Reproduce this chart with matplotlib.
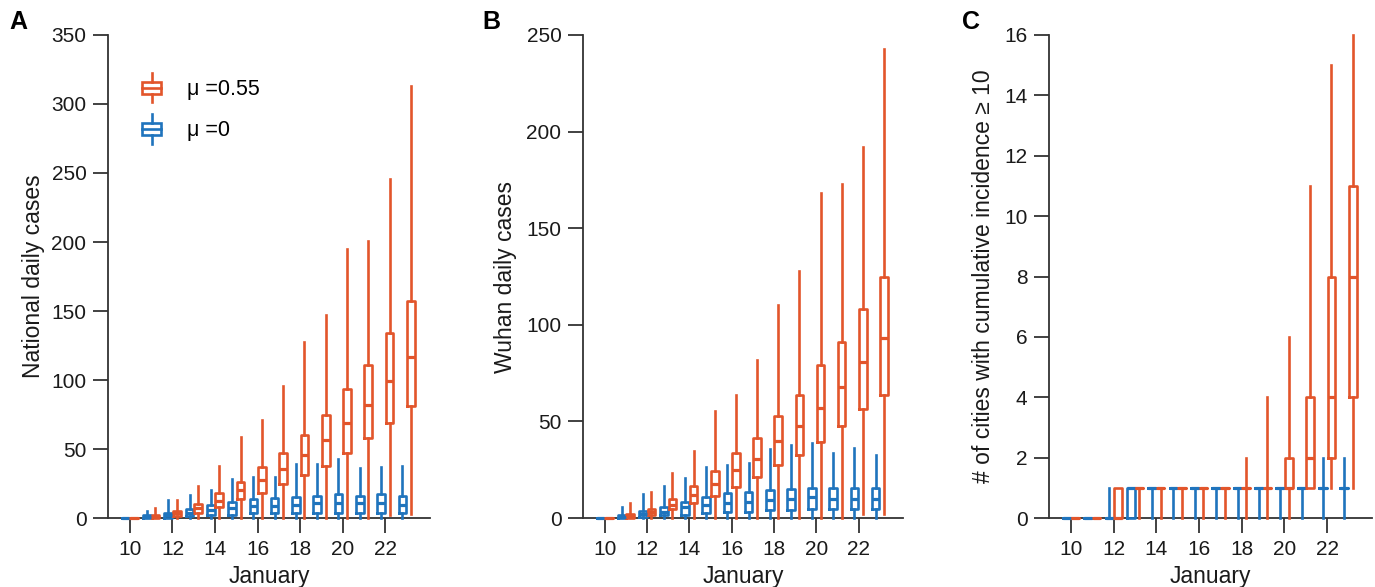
import matplotlib
matplotlib.use("Agg")
import matplotlib.pyplot as plt
from matplotlib.legend_handler import HandlerBase
from matplotlib.lines import Line2D
from matplotlib.patches import Rectangle

plt.rcParams['font.family'] = ['Liberation Sans', 'DejaVu Sans']

# days in January
days = list(range(10, 24))

# Panel A - national daily cases
nat_or_med = [0, 0.8, 3.5, 7.5, 12.5, 20, 27.5, 35.5, 46, 56.5, 68.5, 82, 99, 117]
nat_or_q1 = [0, 0, 1.5, 4, 8, 13.5, 18, 24.5, 31.5, 38, 47, 58, 69, 81.5]
nat_or_q3 = [0, 2, 5, 10, 18, 26, 37, 47, 60.5, 75, 93.5, 111, 134, 157]
nat_or_lo = [0, 0, 0, 0, 0, 0, 0, 0, 0, 0, 0, 0, 2, 3]
nat_or_hi = [0, 7, 13, 23, 38, 59, 71, 95.5, 127.5, 147, 195, 200.5, 245.5, 313]

nat_bl_med = [0, 0.5, 2, 4, 6, 7, 8.7, 8.7, 9.4, 10.6, 10.6, 10.6, 10.6, 9.4]
nat_bl_q1 = [0, 0, 0, 1.5, 2, 2, 3.5, 3.4, 4, 4, 4, 4, 4, 4]
nat_bl_q3 = [0, 2, 3.5, 6.5, 9.5, 11.5, 14, 14.7, 15.5, 16, 17.4, 16, 17.4, 16]
nat_bl_lo = [0] * 14
nat_bl_hi = [0, 5, 13, 17, 20, 28, 30, 29.7, 39, 39, 43, 36, 37, 38]

# Panel B - Wuhan daily cases
wuh_or_med = [0, 0.8, 3.3, 7, 12, 17.6, 24.8, 30.5, 39.9, 47.6, 56.8, 68, 81, 93]
wuh_or_q1 = [0, 0, 1.5, 4.5, 7.6, 11.4, 16.2, 21.4, 27.4, 32.4, 39.5, 47.6, 56.4, 63.7]
wuh_or_q3 = [0, 2, 4.6, 9.7, 16.6, 24.5, 33.8, 41.6, 52.8, 63.7, 79, 91, 108, 125]
wuh_or_lo = [0, 0, 0, 0, 0, 0, 0, 0, 0, 0, 0, 0, 2, 2]
wuh_or_hi = [0, 7.6, 13.3, 23.5, 34.7, 55.4, 63.7, 81.8, 110, 128, 168, 173, 192, 243]

wuh_bl_med = [0, 0.5, 2, 3.3, 5.9, 6.7, 7.6, 8.4, 9.3, 9.7, 10.7, 10, 10, 10]
wuh_bl_q1 = [0, 0, 0.7, 1.5, 1.5, 2.4, 3.3, 3.3, 4.1, 4.1, 4.6, 4.6, 4.6, 4.6]
wuh_bl_q3 = [0, 1.5, 3.6, 5.9, 8.5, 10.7, 12.8, 13.6, 14.5, 15, 15.7, 15.4, 15.7, 15.7]
wuh_bl_lo = [0] * 14
wuh_bl_hi = [0, 5.5, 12.4, 16.6, 20.5, 26.2, 27.4, 28.6, 35.5, 37.8, 38.6, 33.5, 36.4, 32.5]

# Panel C - cities with cumulative incidence >= 10
cit_or_med = [0, 0, 0, 1, 1, 1, 1, 1, 1, 1, 1, 2, 4, 8]
cit_or_q1 = [0, 0, 0, 1, 1, 1, 1, 1, 1, 1, 1, 1, 2, 4]
cit_or_q3 = [0, 0, 1, 1, 1, 1, 1, 1, 1, 1, 2, 4, 8, 11]
cit_or_lo = [0, 0, 0, 0, 0, 0, 0, 0, 0, 0, 0, 1, 1, 1]
cit_or_hi = [0, 0, 1, 1, 1, 1, 1, 1, 2, 4, 6, 11, 15, 16]

cit_bl_med = [0, 0, 0, 1, 1, 1, 1, 1, 1, 1, 1, 1, 1, 1]
cit_bl_q1 = [0, 0, 0, 0, 1, 1, 1, 1, 1, 1, 1, 1, 1, 1]
cit_bl_q3 = [0, 0, 0, 1, 1, 1, 1, 1, 1, 1, 1, 1, 1, 1]
cit_bl_lo = [0] * 14
cit_bl_hi = [0, 0, 1, 1, 1, 1, 1, 1, 1, 1, 1, 1, 2, 2]

ORANGE = "#e2552b"
BLUE = "#1f74bd"
AXC = "#333333"
TXT = "#1a1a1a"
OFF = 0.2
BW = 0.36
LW = 1.9


def make_stats(med, q1, q3, lo, hi):
    return [dict(med=m, q1=a, q3=b, whislo=l, whishi=h, fliers=[])
            for m, a, b, l, h in zip(med, q1, q3, lo, hi)]


def draw_boxes(ax, stats, color, shift):
    props = dict(color=color, lw=LW, clip_on=False)
    ax.bxp(stats, positions=[d + shift for d in days], widths=BW,
           showcaps=False, showfliers=False, manage_ticks=False,
           boxprops=props, whiskerprops=props,
           medianprops=dict(color=color, lw=LW + 0.4, clip_on=False),
           zorder=3)


class BoxHandler(HandlerBase):
    # small box-plot glyph for the legend
    def create_artists(self, legend, orig_handle, xdescent, ydescent,
                       width, height, fontsize, trans):
        c = orig_handle.get_color()
        cx = width / 2 - xdescent
        cy = height / 2 - ydescent
        bw = width * 0.95
        bh = height * 0.5
        rect = Rectangle((cx - bw / 2, cy - bh / 2), bw, bh, fill=False,
                         ec=c, lw=LW, transform=trans)
        med = Line2D([cx - bw / 2, cx + bw / 2], [cy, cy], color=c, lw=LW, transform=trans)
        up = Line2D([cx, cx], [cy + bh / 2, cy + height * 0.62], color=c, lw=LW, transform=trans)
        dn = Line2D([cx, cx], [cy - bh / 2, cy - height * 0.62], color=c, lw=LW, transform=trans)
        return [rect, med, up, dn]


fig = plt.figure(figsize=(13.75, 5.87), dpi=100)

panels = [
    dict(rect=[108 / 1375, 0.1175, 322 / 1375, 0.8229], letter="A", lx=0.007,
         ylabel="National daily cases", ymax=350, ystep=50, labx=-0.196,
         orange=(nat_or_med, nat_or_q1, nat_or_q3, nat_or_lo, nat_or_hi),
         blue=(nat_bl_med, nat_bl_q1, nat_bl_q3, nat_bl_lo, nat_bl_hi)),
    dict(rect=[583 / 1375, 0.1175, 320 / 1375, 0.8229], letter="B", lx=0.351,
         ylabel="Wuhan daily cases", ymax=250, ystep=50, labx=-0.206,
         orange=(wuh_or_med, wuh_or_q1, wuh_or_q3, wuh_or_lo, wuh_or_hi),
         blue=(wuh_bl_med, wuh_bl_q1, wuh_bl_q3, wuh_bl_lo, wuh_bl_hi)),
    dict(rect=[1049 / 1375, 0.1175, 323 / 1375, 0.8229], letter="C", lx=0.700,
         ylabel="# of cities with cumulative incidence \u2265 10", ymax=16, ystep=2, labx=-0.167,
         orange=(cit_or_med, cit_or_q1, cit_or_q3, cit_or_lo, cit_or_hi),
         blue=(cit_bl_med, cit_bl_q1, cit_bl_q3, cit_bl_lo, cit_bl_hi)),
]

axes = []
for p in panels:
    ax = fig.add_axes(p["rect"])
    axes.append(ax)
    draw_boxes(ax, make_stats(*p["blue"]), BLUE, -OFF)
    draw_boxes(ax, make_stats(*p["orange"]), ORANGE, OFF)

    ax.set_xlim(8.97, 24.1)
    ax.set_ylim(0, p["ymax"])
    ax.set_xticks(range(10, 23, 2))
    ax.set_yticks(range(0, p["ymax"] + 1, p["ystep"]))
    for s in ["top", "right"]:
        ax.spines[s].set_visible(False)
    for s in ["left", "bottom"]:
        ax.spines[s].set_color(AXC)
        ax.spines[s].set_linewidth(1.3)
    ax.tick_params(direction="out", length=10.5, width=1.3, color=AXC,
                   labelsize=15, pad=5, labelcolor=TXT)
    ax.set_xlabel("January", fontsize=16.5, color=TXT, va="top")
    ax.xaxis.set_label_coords(0.5, -0.097)
    ax.set_ylabel(p["ylabel"], fontsize=16.5, color=TXT)
    ax.yaxis.set_label_coords(p["labx"], 0.5)

    fig.text(p["lx"], 0.962, p["letter"], fontsize=18, fontweight="bold",
             va="center", ha="left", family=["Liberation Sans Narrow", "Liberation Sans"])

h_or = Line2D([], [], color=ORANGE)
h_bl = Line2D([], [], color=BLUE)
axes[0].legend([h_or, h_bl], ["\u03bc =0.55", "\u03bc =0"], loc="upper left",
               bbox_to_anchor=(0.045, 0.955), frameon=False, fontsize=15.5,
               handlelength=0.9, handleheight=1.3, handletextpad=1.2,
               labelspacing=0.8,
               handler_map={Line2D: BoxHandler()})

fig.savefig("out.png", dpi=100)
